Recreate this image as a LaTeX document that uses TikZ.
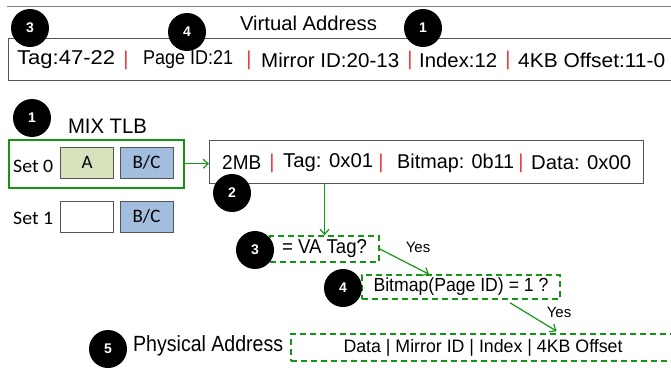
\documentclass[tikz,border=0pt]{standalone}
\usepackage{fontspec}
\usepackage{graphicx}
\setmainfont{Liberation Sans}
\newfontfamily\calib{Carlito}
\usetikzlibrary{arrows.meta}

\definecolor{flowgreen}{RGB}{22,150,22}
\definecolor{barred}{RGB}{235,60,60}
\definecolor{cellA}{RGB}{215,227,188}
\definecolor{cellBC}{RGB}{163,189,222}
\definecolor{edgegray}{RGB}{85,85,85}

% set a text to a given width, keeping its natural height
\newcommand{\wfit}[2]{\resizebox{#1}{\height}{#2}}

\tikzset{
  badge/.style={circle, fill=black, minimum size=38pt, inner sep=0pt,
    text=white, font=\bfseries\fontsize{14}{14}\selectfont},
  lbl/.style={anchor=west, inner sep=0pt, font=\fontsize{20}{20}\selectfont},
  vbar/.style={inner sep=0pt, text=barred, font=\fontsize{20}{20}\selectfont},
  cell/.style={draw=edgegray, line width=0.8pt, minimum width=53pt,
    minimum height=31pt, inner sep=0pt, font=\calib\fontsize{19}{19}\selectfont},
  dbox/.style={draw=flowgreen, line width=1.6pt, dash pattern=on 6pt off 4pt,
    inner sep=0pt},
  flow/.style={-{Straight Barb[length=5pt,width=9pt]}, flowgreen, line width=1.2pt},
  yeslbl/.style={inner sep=0pt, font=\fontsize{15}{15}\selectfont}
}

\begin{document}
\begin{tikzpicture}[x=1pt, y=-1pt]
\useasboundingbox (0,0) rectangle (671,377);
\clip (0,0) rectangle (671,377);

% virtual address header
\draw[gray, line width=0.8pt] (7,6) -- (671,6);
\node (vatitle) [inner sep=0pt, font=\fontsize{20}{20}\selectfont] at (308.5,23) {\wfit{137pt}{Virtual Address}};
\node (vabox) [draw=edgegray, line width=0.8pt, anchor=north west,
  minimum width=670pt, minimum height=42pt] at (8,38) {};
\node (f1) [lbl] at (17,60) {\wfit{98pt}{Tag:47-22}};
\node (b1) [vbar] at (126,60) {|};
\node (f2) [lbl] at (143,60) {\wfit{90pt}{Page ID:21}};
\node (b2) [vbar] at (249,60) {|};
\node (f3) [lbl] at (261,60) {\wfit{138pt}{Mirror ID:20-13}};
\node (b3) [vbar] at (410,60) {|};
\node (f4) [lbl] at (419,60) {\wfit{78pt}{Index:12}};
\node (b4) [vbar] at (508,60) {|};
\node (f5) [lbl] at (518,60) {\wfit{147pt}{4KB Offset:11-0}};

% MIX TLB
\node (tlbtitle) [inner sep=0pt, font=\fontsize{21}{21}\selectfont] at (107.5,126) {\wfit{79pt}{MIX TLB}};
\node (set0) [draw=flowgreen, line width=1.5pt, anchor=north west,
  minimum width=175pt, minimum height=48pt] at (8,139) {};
\node (s0lbl) [anchor=west, inner sep=0pt, font=\calib\fontsize{19}{19}\selectfont] at (13,166) {\wfit{40pt}{Set 0}};
\node (s0a) [cell, fill=cellA] at (87,162.5) {A};
\node (s0bc) [cell, fill=cellBC] at (146.5,162.5) {B/C};
\node (s1lbl) [anchor=west, inner sep=0pt, font=\calib\fontsize{19}{19}\selectfont] at (13,218) {\wfit{40pt}{Set 1}};
\node (s1a) [cell, fill=white] at (87,216.5) {};
\node (s1bc) [cell, fill=cellBC] at (146.5,216.5) {B/C};

% TLB entry
\node (entry) [draw=edgegray, line width=0.8pt, anchor=north west,
  minimum width=434pt, minimum height=43pt] at (209,140) {};
\node (e1) [lbl] at (222,163) {\wfit{39pt}{2MB}};
\node (eb1) [vbar] at (272,163) {|};
\node (e2) [lbl] at (283,163) {\wfit{90pt}{Tag: 0x01}};
\node (eb2) [vbar] at (381,163) {|};
\node (e3) [lbl] at (397,163) {\wfit{117pt}{Bitmap: 0b11}};
\node (eb3) [vbar] at (521,163) {|};
\node (e4) [lbl] at (531,163) {\wfit{100pt}{Data: 0x00}};

% checks
\node (q1) [dbox, minimum width=109pt, minimum height=26pt,
  font=\fontsize{20}{20}\selectfont] at (324.5,249) {\wfit{85pt}{= VA Tag?}};
\node (q2) [dbox, minimum width=198pt, minimum height=24pt,
  font=\fontsize{19}{19}\selectfont] at (461,287) {\wfit{175pt}{Bitmap(Page ID) = 1 ?}};
\node (pa) [dbox, minimum width=384pt, minimum height=27pt,
  font=\fontsize{18}{18}\selectfont] at (483,347.5) {\wfit{279pt}{Data | Mirror ID | Index | 4KB Offset}};
\node (palbl) [anchor=west, inner sep=0pt, font=\fontsize{22}{22}\selectfont] at (133,346) {\wfit{150pt}{Physical Address}};

\node (yes1) [yeslbl] at (418,247) {Yes};
\node (yes2) [yeslbl] at (559,312) {Yes};

% connectors
\draw[flow] (set0.east) -- (set0.east -| entry.west);
\draw[flow] (q1.north |- entry.south) -- (q1.north);
\draw[flow] (q1.east) -- ([xshift=-32pt]q2.north);
\draw[flow, shorten >=4pt] ([xshift=49pt, yshift=-3pt]q2.south) -- ([xshift=77pt]pa.north);

% step markers
\node (m3a) [badge] at (30,28) {3};
\node (m4a) [badge] at (187,32) {4};
\node (m1a) [badge] at (423,28) {1};
\node (m1b) [badge] at (32,118) {1};
\node (m2) [badge] at (232,193) {2};
\node (m3b) [badge] at (255,250) {3};
\node (m4b) [badge] at (343,288) {4};
\node (m5) [badge] at (108,349) {5};
\end{tikzpicture}
\end{document}
